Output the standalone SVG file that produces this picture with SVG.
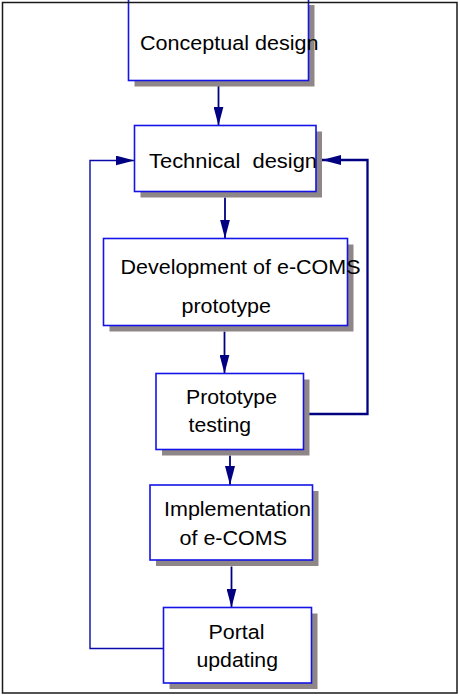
<svg xmlns="http://www.w3.org/2000/svg" width="460" height="698" viewBox="0 0 460 698">
  <style>
    .shadow { fill: #8f8787; }
    .box { fill: #ffffff; stroke: #1414e6; stroke-width: 1.6; }
    .lbl { font-family: "Liberation Sans", Arial, sans-serif; font-size: 20.5px; fill: #000000; }
    .conn { fill: none; stroke: #000080; stroke-width: 1.8; }
    .fbr { fill: none; stroke: #000080; stroke-width: 2.3; }
    .fbl { fill: none; stroke: #0a0aa8; stroke-width: 1.4; }
  </style>
  <defs>
    <marker id="arr" markerUnits="userSpaceOnUse" markerWidth="19" markerHeight="10" refX="19" refY="5" orient="auto">
      <path d="M0,0 L19,5 L0,10 Z" fill="#000080"/>
    </marker>
  </defs>
  <rect x="0" y="0" width="460" height="698" fill="#ffffff"/>

  <g id="connectors">
    <path class="conn" d="M218.5,86 V125.5" marker-end="url(#arr)"/>
    <path class="conn" d="M225,197.5 V238.5" marker-end="url(#arr)"/>
    <path class="conn" d="M224.5,331.5 V373.5" marker-end="url(#arr)"/>
    <path class="conn" d="M230,455.5 V485" marker-end="url(#arr)"/>
    <path class="conn" d="M231.5,566.5 V607.5" marker-end="url(#arr)"/>
    <path class="fbr" d="M303.5,414 H367.5 V160 H322" marker-end="url(#arr)"/>
    <path class="fbl" d="M163.5,648.5 H90 V160.5 H134.5" marker-end="url(#arr)"/>
  </g>

  <g id="node-conceptual">
    <rect class="shadow" x="134.5" y="5" width="180" height="81.5"/>
    <rect class="box" x="128.5" y="-1" width="180" height="81.5"/>
    <text class="lbl" x="140" y="50" textLength="178.5" lengthAdjust="spacingAndGlyphs">Conceptual design</text>
  </g>
  <g id="node-technical">
    <rect class="shadow" x="140.5" y="131.5" width="181.5" height="66"/>
    <rect class="box" x="134.5" y="125.5" width="181.5" height="66"/>
    <text class="lbl" x="149" y="168" xml:space="preserve" textLength="168" lengthAdjust="spacingAndGlyphs">Technical  design</text>
  </g>
  <g id="node-development">
    <rect class="shadow" x="109.5" y="244.5" width="244" height="87"/>
    <rect class="box" x="103.5" y="238.5" width="244" height="87"/>
    <text class="lbl" x="120.5" y="274" textLength="240" lengthAdjust="spacingAndGlyphs">Development of e-COMS</text>
    <text class="lbl" x="181.5" y="313" textLength="89.5" lengthAdjust="spacingAndGlyphs">prototype</text>
  </g>
  <g id="node-testing">
    <rect class="shadow" x="162" y="379.5" width="147.5" height="76"/>
    <rect class="box" x="156" y="373.5" width="147.5" height="76"/>
    <text class="lbl" x="186" y="404" textLength="91" lengthAdjust="spacingAndGlyphs">Prototype</text>
    <text class="lbl" x="188.5" y="432" textLength="62.5" lengthAdjust="spacingAndGlyphs">testing</text>
  </g>
  <g id="node-implementation">
    <rect class="shadow" x="156" y="491" width="162.5" height="75"/>
    <rect class="box" x="150" y="485" width="162.5" height="75"/>
    <text class="lbl" x="164" y="516" textLength="147" lengthAdjust="spacingAndGlyphs">Implementation</text>
    <text class="lbl" x="179.5" y="545" textLength="107.5" lengthAdjust="spacingAndGlyphs">of e-COMS</text>
  </g>
  <g id="node-portal">
    <rect class="shadow" x="169.5" y="613.5" width="148" height="75.5"/>
    <rect class="box" x="163.5" y="607.5" width="148" height="75.5"/>
    <text class="lbl" x="208.5" y="638.5" textLength="56" lengthAdjust="spacingAndGlyphs">Portal</text>
    <text class="lbl" x="196.5" y="667" textLength="81.5" lengthAdjust="spacingAndGlyphs">updating</text>
  </g>

  <rect id="frame" x="2.5" y="2.5" width="454.5" height="690.5" fill="none" stroke="#1a1a1a" stroke-width="1.5"/>
</svg>
